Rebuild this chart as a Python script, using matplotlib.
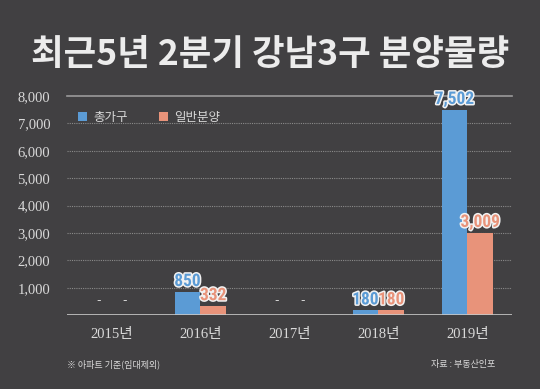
import matplotlib
matplotlib.use("Agg")
import matplotlib.pyplot as plt
import matplotlib.patheffects as pe
from matplotlib import font_manager
import numpy as np

years = ["2015년", "2016년", "2017년", "2018년", "2019년"]
total = [0, 850, 0, 180, 7502]
general = [0, 332, 0, 180, 3009]
series_names = ["총가구", "일반분양"]
yticks = [1000, 2000, 3000, 4000, 5000, 6000, 7000, 8000]

bg = "#414042"
blue = "#5b9bd5"
orange = "#e8937a"
txt = "#d9d9d9"
kr = ["Noto Sans CJK KR", "DejaVu Sans"]
serif = ["Liberation Serif", "Noto Sans CJK KR"]

names = {f.name for f in font_manager.fontManager.ttflist}
if "Roboto Condensed" in names:
    num_font, num_size = "Roboto Condensed", 12.5
else:
    num_font, num_size = "Roboto", 11

fig = plt.figure(figsize=(5.4, 3.89), dpi=100, facecolor=bg)
ax = fig.add_axes([0.124, 0.19, 0.824, 0.563], facecolor=bg)

x = np.arange(len(years))
w = 0.29
b1 = ax.bar(x - w / 2, total, w, color=blue, label=series_names[0])
b2 = ax.bar(x + w / 2, general, w, color=orange, label=series_names[1])

ax.set_xlim(-0.5, 4.5)
ax.set_ylim(0, 8000)
for s in ax.spines.values():
    s.set_visible(False)
ax.axhline(0, color="#c8c8c8", lw=1.2, zorder=3)
ax.axhline(8000, color="#9a9a9a", lw=1.2, zorder=1, clip_on=False)
for v in yticks[:-1]:
    ax.axhline(v, color="#8a8a8a", lw=0.8, ls=(0, (1, 1)), zorder=0)

ax.set_yticks(yticks)
ax.set_yticklabels([f"{v:,}" for v in yticks], family=serif, fontsize=10.5, color=txt)
ax.set_xticks(x)
ax.set_xticklabels(years, family=serif, fontsize=10.5, color=txt)
ax.tick_params(length=0, pad=9)
ax.tick_params(axis="y", pad=12)

for bars, vals, col in [(b1, total, blue), (b2, general, orange)]:
    for r, v in zip(bars, vals):
        cx = r.get_x() + r.get_width() / 2
        if v == 0:
            ax.text(cx, 550, "-", ha="center", va="center", color=txt, fontsize=9)
        else:
            ax.annotate(f"{v:,}", (cx, v), xytext=(0, 2), textcoords="offset points",
                        ha="center", va="bottom", color=col, fontsize=num_size,
                        fontweight="bold", family=num_font,
                        path_effects=[pe.withStroke(linewidth=2.2, foreground="#f2f2f2")])

leg = ax.legend(loc="upper left", bbox_to_anchor=(0.0, 0.985), ncol=2, frameon=False,
                prop={"family": kr, "size": 9}, handlelength=0.7, handleheight=0.7,
                columnspacing=2.5, handletextpad=0.5)
for t in leg.get_texts():
    t.set_color(txt)

fig.text(0.5, 0.86, "최근5년 2분기 강남3구 분양물량", ha="center", va="center",
         family=kr, fontsize=25.5, fontweight="black", color="#ececec")
fig.text(0.124, 0.064, "※ 아파트 기준(임대제외)", ha="left", va="center",
         family=kr, fontsize=6.5, color=txt)
fig.text(0.918, 0.064, "자료 : 부동산인포", ha="right", va="center",
         family=kr, fontsize=6.5, color=txt)

fig.savefig("out.png", dpi=100, facecolor=bg)
